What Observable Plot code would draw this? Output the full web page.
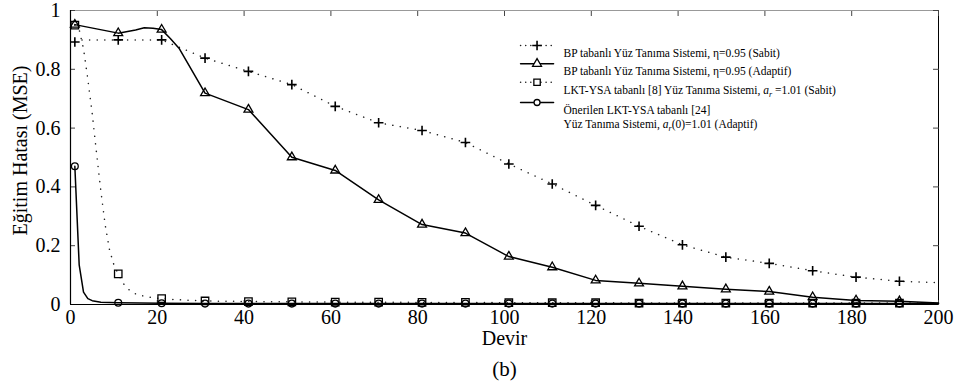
<!DOCTYPE html>
<html>
<head>
<meta charset="utf-8">
<script src="https://cdn.jsdelivr.net/npm/d3@7"></script>
<script src="https://cdn.jsdelivr.net/npm/@observablehq/plot@0.6"></script>
<style>
  body { margin: 0; background: #fff; }
  #chart svg { display: block; font-family: "Liberation Serif", "Times New Roman", serif !important; }
  #chart svg text { font-family: "Liberation Serif", "Times New Roman", serif !important; }
</style>
</head>
<body>
<div id="chart"></div>
<script>
// ---- Data ----
const markerEpochs = [1, 11, 21, 31, 41, 51, 61, 71, 81, 91, 101, 111, 121, 131, 141, 151, 161, 171, 181, 191];

// BP tabanlı, η=0.95 (Sabit) – dotted, plus markers
const bpSabitX = [1, 2, 11, 21, 31, 41, 51, 61, 71, 81, 91, 101, 111, 121, 131, 141, 151, 161, 171, 181, 191, 200];
const bpSabitY = [0.893, 0.900, 0.900, 0.900, 0.838, 0.793, 0.748, 0.674, 0.618, 0.592, 0.551, 0.478, 0.410, 0.337, 0.266, 0.203, 0.161, 0.140, 0.115, 0.093, 0.079, 0.074];

// BP tabanlı, η=0.95 (Adaptif) – solid, triangle markers
const bpAdaptifX = [1, 11, 15, 17, 19, 21, 23, 25, 31, 41, 51, 61, 71, 81, 91, 101, 111, 121, 131, 141, 151, 161, 171, 181, 191, 200];
const bpAdaptifY = [0.952, 0.923, 0.934, 0.941, 0.940, 0.935, 0.905, 0.872, 0.719, 0.663, 0.501, 0.456, 0.356, 0.272, 0.243, 0.163, 0.127, 0.082, 0.072, 0.062, 0.052, 0.044, 0.025, 0.014, 0.011, 0.005];

// LKT-YSA tabanlı [8], a_r=1.01 (Sabit) – dotted, square markers
const lktSabitX = [1, 2, 3, 4, 5, 6, 7, 8, 9, 10, 11, 12, 13, 14, 15, 17, 19, 21, 25, 31, 41, 51, 61, 71, 81, 91, 101, 111, 121, 131, 141, 151, 161, 171, 181, 191, 200];
const lktSabitY = [0.950, 0.935, 0.870, 0.765, 0.650, 0.515, 0.385, 0.270, 0.185, 0.135, 0.104, 0.075, 0.056, 0.044, 0.036, 0.028, 0.023, 0.020, 0.016, 0.012, 0.010, 0.009, 0.008, 0.008, 0.007, 0.007, 0.006, 0.006, 0.006, 0.005, 0.005, 0.005, 0.005, 0.005, 0.005, 0.005, 0.005];

// Önerilen LKT-YSA tabanlı [24], a_r(0)=1.01 (Adaptif) – solid, circle markers
const onerilenX = [1, 2, 3, 4, 5, 7, 11, 21, 31, 41, 51, 61, 71, 81, 91, 101, 111, 121, 131, 141, 151, 161, 171, 181, 191, 200];
const onerilenY = [0.470, 0.135, 0.042, 0.020, 0.013, 0.008, 0.006, 0.004, 0.003, 0.003, 0.003, 0.003, 0.003, 0.003, 0.003, 0.003, 0.003, 0.003, 0.003, 0.003, 0.003, 0.003, 0.003, 0.003, 0.003, 0.003];

// Axis ticks and texts
const xTicks = [0, 20, 40, 60, 80, 100, 120, 140, 160, 180, 200];
const yTicks = [0, 0.2, 0.4, 0.6, 0.8, 1];
const xLabel = "Devir";
const yLabel = "Eğitim Hatası (MSE)";
const caption = "(b)";

// Legend
const legendLabels = [
  "BP tabanlı Yüz Tanıma Sistemi, η=0.95 (Sabit)",
  "BP tabanlı Yüz Tanıma Sistemi, η=0.95 (Adaptif)",
  "LKT-YSA tabanlı [8] Yüz Tanıma Sistemi, a_r =1.01 (Sabit)",
  "Önerilen LKT-YSA tabanlı [24]",
  "Yüz Tanıma Sistemi, a_r(0)=1.01 (Adaptif)"
];
const legendTextY = [0.855, 0.7925, 0.730, 0.660, 0.612];
const legendSampleY = [0.881, 0.819, 0.756, 0.687];
const legendSampleX = [103.7, 111.3];
const legendMarkerX = 107.5;
const legendTextX = 113.6;

// ---- Build tables ----
const toRows = (X, Y) => X.map((x, i) => ({x, y: Y[i]}));
const s1 = toRows(bpSabitX, bpSabitY);
const s2 = toRows(bpAdaptifX, bpAdaptifY);
const s3 = toRows(lktSabitX, lktSabitY);
const s4 = toRows(onerilenX, onerilenY);
const isMarker = d => markerEpochs.includes(d.x);

const dotted = {stroke: "#222", strokeWidth: 1.5, strokeDasharray: "0.1 7.5", strokeLinecap: "round"};
const solid = {stroke: "black", strokeWidth: 1.5};

const sampleRows = (i) => legendSampleX.map(x => ({x, y: legendSampleY[i]}));

const chart = Plot.plot({
  width: 956,
  height: 392,
  marginLeft: 70,
  marginRight: 18,
  marginTop: 10,
  marginBottom: 88,
  style: "font-family: 'Liberation Serif', serif; font-size: 20px; background: white; color: black;",
  x: {domain: [0, 200]},
  y: {domain: [0, 1]},
  marks: [
    // frame
    Plot.ruleY([1], {stroke: "#999", strokeWidth: 1}),
    Plot.ruleX([200], {stroke: "black", strokeWidth: 1}),
    // axes
    Plot.axisY(yTicks, {anchor: "left", tickSize: -5, tickPadding: 15, stroke: "#444", fill: "black", fontSize: 20, tickFormat: d => d3.format("~g")(d), label: null}),
    Plot.axisY(yTicks, {anchor: "right", tickSize: -6, tickFormat: () => "", stroke: "#444", label: null}),
    Plot.axisX(xTicks, {anchor: "bottom", tickSize: -4, tickPadding: 9, stroke: "#444", fill: "black", fontSize: 20, label: null}),
    Plot.axisX(xTicks, {anchor: "top", tickSize: -5, tickFormat: () => "", stroke: "#444", label: null}),
    Plot.ruleX([0], {stroke: "black", strokeWidth: 1.2}),
    Plot.ruleY([0], {stroke: "black", strokeWidth: 1.2}),
    // labels
    Plot.text([yLabel], {frameAnchor: "left", textAnchor: "middle", lineAnchor: "middle", rotate: -90, dx: -50, dy: -7, fontSize: 20, fill: "black"}),
    Plot.text([xLabel], {frameAnchor: "bottom", dy: 40, fontSize: 20, fill: "black"}),
    Plot.text([caption], {frameAnchor: "bottom", dy: 71, fontSize: 21, fill: "black"}),
    // series lines
    Plot.line(s1, {x: "x", y: "y", ...dotted}),
    Plot.line(s3, {x: "x", y: "y", ...dotted}),
    Plot.line(s2, {x: "x", y: "y", ...solid}),
    Plot.line(s4, {x: "x", y: "y", ...solid}),
    // markers
    Plot.dot(s1.filter(isMarker), {x: "x", y: "y", symbol: "plus", r: 3.2, stroke: "black", strokeWidth: 1.6}),
    Plot.dot(s2.filter(isMarker), {x: "x", y: "y", symbol: "triangle", r: 3.3, fill: "none", stroke: "black", strokeWidth: 1.3}),
    Plot.dot(s3.filter(isMarker), {x: "x", y: "y", symbol: "square", r: 4.2, fill: "none", stroke: "black", strokeWidth: 1.3}),
    Plot.dot(s4.filter(isMarker), {x: "x", y: "y", symbol: "circle", r: 3.4, fill: "none", stroke: "black", strokeWidth: 1.3}),
    // legend samples
    Plot.line(sampleRows(0), {x: "x", y: "y", ...dotted, strokeDasharray: "0.1 5"}),
    Plot.line(sampleRows(1), {x: "x", y: "y", ...solid}),
    Plot.line(sampleRows(2), {x: "x", y: "y", ...dotted, strokeDasharray: "0.1 5"}),
    Plot.line(sampleRows(3), {x: "x", y: "y", ...solid}),
    Plot.dot([{x: legendMarkerX, y: legendSampleY[0]}], {x: "x", y: "y", symbol: "plus", r: 3.2, stroke: "black", strokeWidth: 1.6}),
    Plot.dot([{x: legendMarkerX, y: legendSampleY[1]}], {x: "x", y: "y", symbol: "triangle", r: 3.3, fill: "white", stroke: "black", strokeWidth: 1.3}),
    Plot.dot([{x: legendMarkerX, y: legendSampleY[2]}], {x: "x", y: "y", symbol: "square", r: 3.6, fill: "white", stroke: "black", strokeWidth: 1.3}),
    Plot.dot([{x: legendMarkerX, y: legendSampleY[3]}], {x: "x", y: "y", symbol: "circle", r: 3, fill: "white", stroke: "black", strokeWidth: 1.3}),
    Plot.text(legendLabels, {x: () => legendTextX, y: (d, i) => legendTextY[i], text: d => d, textAnchor: "start", fontSize: 11.5, fill: "black"})
  ]
});

// Render a_r as italic a with subscript r
chart.querySelectorAll("text, tspan").forEach(el => {
  if (el.children.length === 0 && el.textContent.includes("a_r")) {
    const parts = el.textContent.split("a_r");
    el.textContent = "";
    const ns = "http://www.w3.org/2000/svg";
    parts.forEach((p, k) => {
      if (k > 0) {
        const a = document.createElementNS(ns, "tspan");
        a.setAttribute("font-style", "italic");
        a.textContent = "a";
        const r = document.createElementNS(ns, "tspan");
        r.setAttribute("font-style", "italic");
        r.setAttribute("font-size", "0.7em");
        r.setAttribute("dy", "3");
        r.textContent = "r";
        const back = document.createElementNS(ns, "tspan");
        back.setAttribute("dy", "-3");
        back.textContent = p;
        el.appendChild(a); el.appendChild(r); el.appendChild(back);
      } else {
        el.appendChild(document.createTextNode(p));
      }
    });
  }
});

document.getElementById("chart").appendChild(chart);
</script>
</body>
</html>
